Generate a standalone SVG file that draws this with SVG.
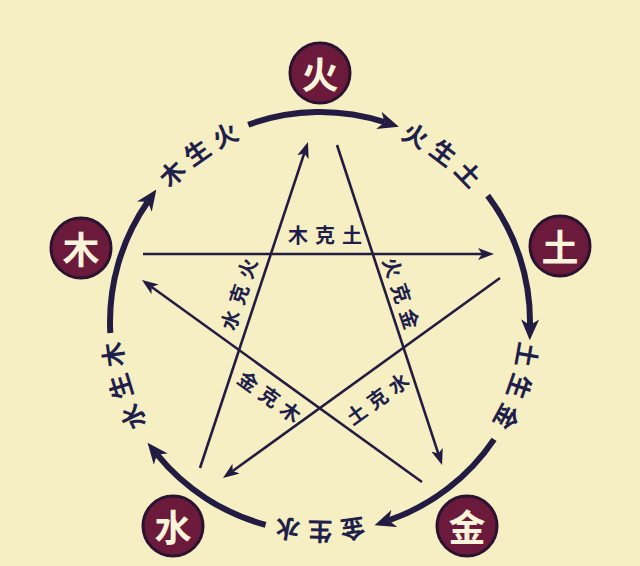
<svg xmlns="http://www.w3.org/2000/svg" width="640" height="566" viewBox="0 0 640 566">
<style>
.bg{fill:#f7efc4}
.node circle{fill:#6c1a3b;stroke:#2a1330;stroke-width:3}
.node text{fill:#fbf3da;font-family:"Noto Sans CJK SC",sans-serif;font-weight:700;font-size:37px;text-anchor:middle;dominant-baseline:central}
.arc{fill:none;stroke:#231c42;stroke-width:6;marker-end:url(#big)}
.ke{fill:none;stroke:#231c42;stroke-width:2.6;marker-end:url(#small)}
.ring{fill:#1f1f4c;font-family:"Noto Sans CJK SC",sans-serif;font-weight:700;font-size:25px;letter-spacing:8px;text-anchor:middle;dominant-baseline:central}
.lab{fill:#1f1f4c;font-family:"Noto Sans CJK SC",sans-serif;font-weight:700;font-size:20px;text-anchor:middle;dominant-baseline:central}
</style>
<defs>
<marker id="big" viewBox="0 0 21 18" refX="6" refY="9" markerWidth="21" markerHeight="18" markerUnits="userSpaceOnUse" orient="auto">
<path d="M0,0 L21,9 L0,18 L6,9 z" fill="#231c42"/>
</marker>
<marker id="small" viewBox="0 0 16 12" refX="4" refY="6" markerWidth="16" markerHeight="12" markerUnits="userSpaceOnUse" orient="auto">
<path d="M0,0 L16,6 L0,12 L4,6 z" fill="#231c42"/>
</marker>
<path id="ringPath" d="M531,322 A211,211 0 1 1 109,322 A211,211 0 1 1 531,322"/>
</defs>
<rect class="bg" x="0" y="0" width="640" height="566"/>

<g id="connectors">
<path class="arc" d="M248.2,124.7 A210,210 0 0 1 384.6,122.2"/>
<path class="arc" d="M487.7,195.6 A210,210 0 0 1 530,325.3"/>
<path class="arc" d="M494.1,439.4 A210,210 0 0 1 388.7,520.4"/>
<path class="arc" d="M265.6,524.8 A210,210 0 0 1 157,454.4"/>
<path class="arc" d="M110.3,333 A210,210 0 0 1 147.8,201.8"/>
<line class="ke" x1="143" y1="254" x2="482" y2="254"/>
<line class="ke" x1="337" y1="145" x2="438.3" y2="453.6"/>
<line class="ke" x1="422" y1="482" x2="151.7" y2="287"/>
<line class="ke" x1="200" y1="468" x2="304.2" y2="153.4"/>
<line class="ke" x1="500" y1="278" x2="232.7" y2="471"/>
</g>

<g id="ring-labels">
<text class="ring"><textPath href="#ringPath" startOffset="1130.9">火生土</textPath></text>
<text class="ring"><textPath href="#ringPath" startOffset="70.3">土生金</textPath></text>
<text class="ring"><textPath href="#ringPath" startOffset="335.4">金生水</textPath></text>
<text class="ring"><textPath href="#ringPath" startOffset="600.6">水生木</textPath></text>
<text class="ring"><textPath href="#ringPath" startOffset="865.7">木生火</textPath></text>
</g>

<g id="ke-labels">
<text class="lab" x="298 325 352" y="234">木克土</text>
<text class="lab" transform="translate(238,294) rotate(-71.7)" x="-27 0 27" y="0">水克火</text>
<text class="lab" transform="translate(402,293) rotate(71.7)" x="-27 0 27" y="0">火克金</text>
<text class="lab" transform="translate(270,396) rotate(35.8)" x="-26 0 26" y="0">金克木</text>
<text class="lab" transform="translate(377,398) rotate(-35.8)" x="-26 0 26" y="0">土克水</text>
</g>

<g id="node-fire" class="node"><circle cx="320" cy="73" r="30"/><text x="320" y="73">火</text></g>
<g id="node-earth" class="node"><circle cx="560" cy="246" r="30"/><text x="560" y="246">土</text></g>
<g id="node-metal" class="node"><circle cx="467" cy="526" r="30"/><text x="467" y="526">金</text></g>
<g id="node-water" class="node"><circle cx="173" cy="526" r="30"/><text x="173" y="526">水</text></g>
<g id="node-wood" class="node"><circle cx="81" cy="248" r="30"/><text x="81" y="248">木</text></g>
</svg>
